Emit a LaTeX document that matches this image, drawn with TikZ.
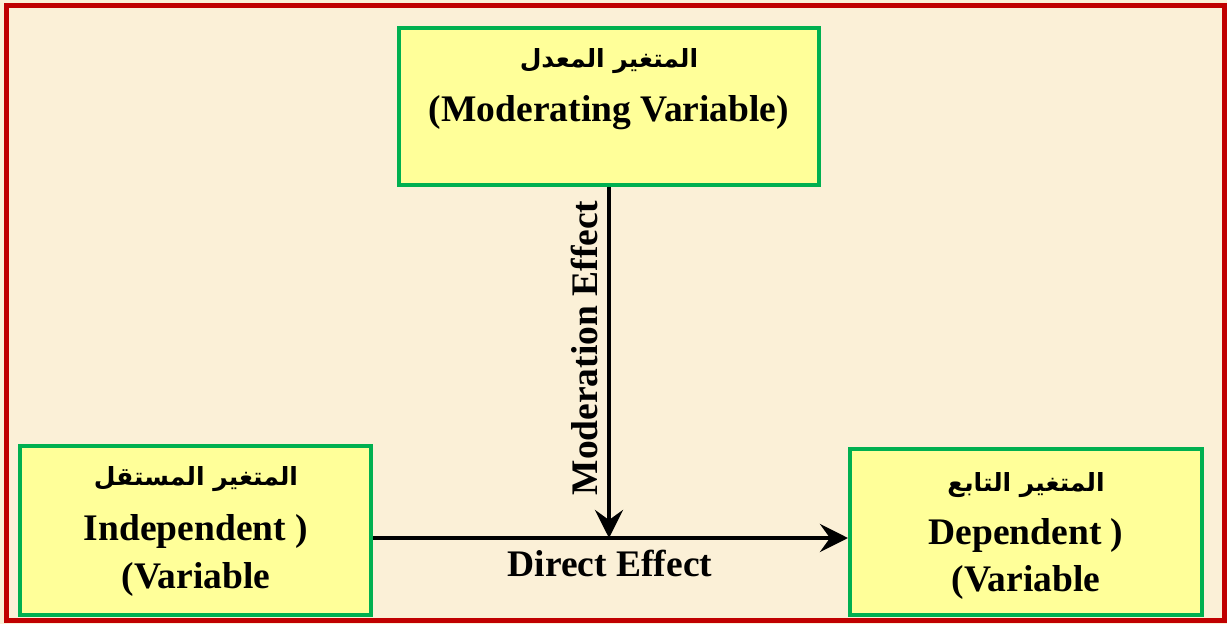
\documentclass[tikz,border=0pt]{standalone}
\usepackage{fontspec}
\setmainfont{Liberation Serif}
\newfontfamily\arabicfont[Script=Arabic]{DejaVu Sans}
\TeXXeTstate=1
\usetikzlibrary{arrows.meta,calc}

\definecolor{parchment}{RGB}{251,240,215}
\definecolor{frame}{RGB}{192,0,0}
\definecolor{boxfill}{RGB}{255,255,153}
\definecolor{boxline}{RGB}{0,176,80}

\tikzset{
  varbox/.style={draw=boxline, fill=boxfill, line width=4pt, inner sep=0pt},
  entxt/.style={font=\fontsize{37.5}{42}\selectfont\bfseries, inner sep=0pt},
  artxt/.style={font=\fontsize{25}{30}\selectfont\arabicfont\bfseries, inner sep=0pt},
  flow/.style={line width=4.5pt, -{Stealth[length=28pt,width=28pt,inset=10pt]}},
}

\begin{document}
\begin{tikzpicture}[x=1pt,y=-1pt]
  \useasboundingbox (0,0) rectangle (1227,624);
  % paper and outer frame
  \fill[parchment] (0,0) rectangle (1227,624);
  \draw[frame, line width=5pt] (6.5,5.5) rectangle (1224.5,620.5);

  % the three variable boxes
  \node[varbox, minimum width=420pt, minimum height=157pt] (mod) at (609,106.5) {};
  \node[varbox, minimum width=351pt, minimum height=169pt] (ind) at (195.5,530.5) {};
  \node[varbox, minimum width=352pt, minimum height=166pt] (dep) at (1026,532) {};

  % box texts
  \node[artxt] (modar) at (609,61) {\beginR المتغير  المعدل\endR};
  \node[entxt] (moden) at (609,113) {(Moderating Variable)};

  \node[artxt] (indar) at (196,479) {\beginR المتغير المستقل\endR};
  \node[entxt] (inden) at (196,531) {Independent )};
  \node[entxt] (indvr) at (196,579) {(Variable};

  \node[artxt] (depar) at (1026,485) {\beginR المتغير التابع\endR};
  \node[entxt] (depen) at (1026,535) {Dependent )};
  \node[entxt] (depvr) at (1026,582) {(Variable};

  % effects
  \coordinate (meet) at (609,538);
  \draw[flow] (ind.east |- meet) -- (dep.west |- meet);
  \draw[flow] (mod.south) -- (meet);

  \node[entxt] (direct) at (610,563) {Direct Effect};
  \node[entxt, rotate=90] (moder) at (584,348) {Moderation Effect};
\end{tikzpicture}
\end{document}
